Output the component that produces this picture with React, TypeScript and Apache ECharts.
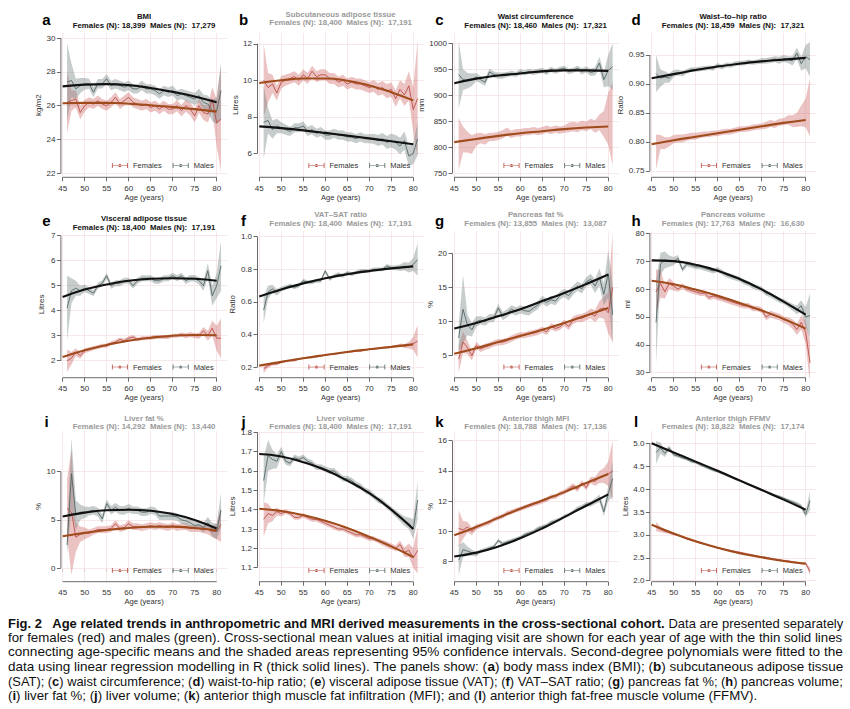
import React, { useEffect, useRef } from "react";
import * as echarts from "echarts";

// ---------- shared axes ----------
const AGES = [46, 47, 48, 49, 50, 51, 52, 53, 54, 55, 56, 57, 58, 59, 60, 61, 62, 63, 64, 65, 66, 67, 68, 69, 70, 71, 72, 73, 74, 75, 76, 77, 78, 79, 80, 81];
const FIT_AGES = [45, 50, 55, 60, 65, 70, 75, 80];
const X_TICKS = [45, 50, 55, 60, 65, 70, 75, 80];

// ---------- a: BMI ----------
const A_TICKS = [22, 24, 26, 28, 30];
const A_F_MEAN = [26.2, 26.3, 26.4, 25.6, 26.0, 26.2, 26.1, 26.3, 26.1, 26.0, 26.2, 26.5, 26.1, 26.3, 26.5, 26.2, 26.1, 26.0, 26.1, 25.9, 26.0, 25.8, 26.0, 25.8, 25.8, 26.0, 25.7, 26.0, 25.8, 25.4, 26.0, 25.6, 25.5, 26.4, 25.0, 25.2];
const A_F_CI = [1.8, 0.6, 0.5, 0.4, 0.35, 0.3, 0.3, 0.3, 0.3, 0.3, 0.3, 0.3, 0.3, 0.3, 0.3, 0.3, 0.3, 0.3, 0.3, 0.3, 0.3, 0.3, 0.3, 0.3, 0.3, 0.32, 0.34, 0.36, 0.38, 0.4, 0.42, 0.45, 0.5, 0.7, 1.4, 3.1];
const A_M_MEAN = [27.4, 27.5, 27.0, 27.2, 27.3, 27.3, 26.8, 27.3, 27.3, 27.6, 27.2, 27.3, 27.2, 27.1, 27.2, 27.0, 27.0, 27.2, 27.0, 27.0, 26.9, 26.7, 26.9, 26.8, 26.9, 26.6, 26.7, 26.6, 26.5, 26.4, 26.6, 26.2, 26.1, 25.7, 25.7, 26.9];
const A_M_CI = [2.3, 1.0, 0.6, 0.45, 0.35, 0.3, 0.3, 0.28, 0.28, 0.28, 0.28, 0.28, 0.28, 0.28, 0.28, 0.28, 0.28, 0.28, 0.28, 0.28, 0.28, 0.28, 0.28, 0.28, 0.3, 0.3, 0.3, 0.32, 0.34, 0.36, 0.4, 0.45, 0.5, 0.6, 0.8, 1.7];
const A_F_FIT = [26.15, 26.17, 26.17, 26.12, 26.03, 25.92, 25.8, 25.65];
const A_M_FIT = [27.15, 27.25, 27.28, 27.22, 27.05, 26.82, 26.55, 26.2];

// ---------- b: SAT ----------
const B_TICKS = [6, 8, 10, 12];
const B_F_MEAN = [10.0, 9.6, 9.8, 9.3, 9.9, 10.0, 10.1, 10.2, 10.0, 10.3, 10.1, 10.5, 10.2, 10.3, 10.3, 10.1, 10.1, 9.9, 10.0, 9.8, 9.9, 9.8, 9.8, 9.7, 9.6, 9.7, 9.5, 9.6, 9.4, 9.5, 9.0, 9.5, 9.2, 9.7, 8.4, 9.0];
const B_F_CI = [2.0, 0.8, 0.5, 0.4, 0.35, 0.3, 0.3, 0.3, 0.3, 0.3, 0.3, 0.3, 0.3, 0.3, 0.3, 0.3, 0.3, 0.3, 0.3, 0.3, 0.3, 0.3, 0.3, 0.3, 0.3, 0.32, 0.34, 0.36, 0.38, 0.4, 0.45, 0.5, 0.6, 0.8, 1.2, 3.2];
const B_M_MEAN = [7.7, 7.8, 7.3, 7.5, 7.4, 7.3, 7.2, 7.4, 7.4, 7.5, 7.2, 7.3, 7.1, 7.2, 7.0, 7.0, 7.1, 7.0, 7.0, 6.9, 6.9, 6.8, 6.9, 6.8, 6.8, 6.8, 6.7, 6.8, 6.6, 6.7, 6.6, 6.4, 6.7, 5.85, 6.0, 6.8];
const B_M_CI = [2.0, 0.7, 0.5, 0.4, 0.3, 0.28, 0.25, 0.25, 0.25, 0.25, 0.25, 0.25, 0.25, 0.25, 0.25, 0.25, 0.25, 0.25, 0.25, 0.25, 0.25, 0.25, 0.25, 0.25, 0.25, 0.28, 0.3, 0.32, 0.35, 0.38, 0.4, 0.45, 0.5, 0.55, 0.6, 0.9];
const B_F_FIT = [9.85, 10.0, 10.1, 10.1, 9.98, 9.72, 9.35, 8.9];
const B_M_FIT = [7.48, 7.38, 7.26, 7.12, 6.97, 6.82, 6.66, 6.5];

// ---------- c: waist circumference ----------
const C_TICKS = [750, 800, 850, 900, 950, 1000];
const C_F_MEAN = [806, 815, 810, 805, 815, 818, 815, 820, 820, 822, 825, 830, 825, 828, 828, 830, 830, 832, 830, 832, 835, 832, 835, 833, 835, 838, 840, 838, 842, 840, 845, 840, 848, 845, 855, 845];
const C_F_CI = [50, 25, 20, 18, 12, 10, 10, 8, 8, 8, 8, 8, 7, 7, 7, 7, 7, 7, 7, 7, 7, 7, 7, 7, 7, 9, 9, 9, 9, 9, 10, 12, 15, 25, 50, 80];
const C_M_MEAN = [940, 930, 928, 930, 935, 930, 925, 945, 940, 938, 938, 940, 942, 940, 945, 943, 946, 944, 946, 948, 944, 950, 946, 950, 952, 946, 948, 952, 946, 950, 944, 946, 962, 930, 948, 955];
const C_M_CI = [65, 20, 15, 12, 8, 7, 7, 6, 6, 6, 6, 5, 5, 5, 5, 5, 5, 5, 5, 5, 5, 5, 5, 5, 5, 5, 5, 5, 6, 6, 7, 8, 12, 15, 30, 45];
const C_F_FIT = [810, 816, 822, 827, 831, 835, 838, 840];
const C_M_FIT = [923, 932, 938, 942, 946, 948, 948, 947];

// ---------- d: waist-to-hip ratio ----------
const D_TICKS = [0.75, 0.8, 0.85, 0.9, 0.95];
const D_F_MEAN = [0.783, 0.8, 0.798, 0.8, 0.805, 0.806, 0.806, 0.808, 0.81, 0.81, 0.812, 0.813, 0.813, 0.815, 0.815, 0.817, 0.818, 0.818, 0.82, 0.822, 0.822, 0.823, 0.825, 0.826, 0.827, 0.829, 0.832, 0.83, 0.834, 0.835, 0.838, 0.836, 0.838, 0.845, 0.85, 0.86];
const D_F_CI = [0.03, 0.012, 0.01, 0.008, 0.007, 0.007, 0.007, 0.006, 0.006, 0.006, 0.005, 0.005, 0.005, 0.005, 0.005, 0.005, 0.005, 0.005, 0.005, 0.005, 0.005, 0.005, 0.005, 0.005, 0.005, 0.006, 0.006, 0.006, 0.006, 0.006, 0.008, 0.01, 0.012, 0.018, 0.025, 0.05];
const D_M_MEAN = [0.918, 0.91, 0.912, 0.91, 0.918, 0.92, 0.918, 0.922, 0.925, 0.925, 0.926, 0.927, 0.928, 0.927, 0.932, 0.929, 0.933, 0.932, 0.935, 0.936, 0.936, 0.938, 0.937, 0.938, 0.94, 0.94, 0.941, 0.943, 0.941, 0.944, 0.942, 0.94, 0.953, 0.935, 0.947, 0.942];
const D_M_CI = [0.032, 0.015, 0.01, 0.008, 0.006, 0.005, 0.005, 0.004, 0.004, 0.004, 0.004, 0.004, 0.004, 0.004, 0.004, 0.004, 0.004, 0.004, 0.004, 0.004, 0.004, 0.004, 0.004, 0.004, 0.005, 0.005, 0.005, 0.005, 0.006, 0.006, 0.006, 0.008, 0.01, 0.012, 0.02, 0.03];
const D_F_FIT = [0.796, 0.803, 0.809, 0.815, 0.821, 0.827, 0.833, 0.838];
const D_M_FIT = [0.91, 0.917, 0.924, 0.93, 0.935, 0.939, 0.942, 0.945];

// ---------- e: VAT ----------
const E_TICKS = [2, 3, 4, 5, 6, 7];
const E_F_MEAN = [2.0, 2.1, 2.35, 2.2, 2.4, 2.45, 2.5, 2.55, 2.6, 2.6, 2.7, 2.75, 2.85, 2.8, 2.9, 2.95, 2.85, 2.9, 2.9, 2.92, 2.95, 2.95, 2.95, 2.95, 3.0, 3.0, 3.05, 3.0, 3.05, 3.0, 3.0, 3.2, 3.0, 3.3, 2.9, 2.9];
const E_F_CI = [0.45, 0.25, 0.15, 0.12, 0.1, 0.09, 0.08, 0.08, 0.08, 0.08, 0.08, 0.08, 0.08, 0.08, 0.08, 0.08, 0.08, 0.08, 0.08, 0.08, 0.08, 0.08, 0.08, 0.08, 0.08, 0.08, 0.08, 0.1, 0.1, 0.1, 0.12, 0.15, 0.2, 0.3, 0.5, 0.8];
const E_M_MEAN = [4.1, 4.8, 4.9, 4.8, 4.9, 4.8, 4.7, 5.0, 5.1, 5.4, 5.0, 5.1, 5.1, 5.2, 5.2, 5.0, 5.2, 5.3, 5.3, 5.3, 5.2, 5.2, 5.3, 5.3, 5.4, 5.3, 5.4, 5.2, 5.3, 5.3, 5.2, 5.0, 5.6, 4.6, 5.0, 5.8];
const E_M_CI = [1.3, 0.5, 0.3, 0.2, 0.15, 0.13, 0.12, 0.12, 0.12, 0.12, 0.12, 0.12, 0.12, 0.12, 0.12, 0.12, 0.12, 0.12, 0.12, 0.12, 0.12, 0.12, 0.12, 0.12, 0.12, 0.12, 0.12, 0.13, 0.13, 0.13, 0.15, 0.2, 0.3, 0.4, 0.5, 1.0];
const E_F_FIT = [2.15, 2.42, 2.63, 2.8, 2.92, 3.0, 3.03, 3.02];
const E_M_FIT = [4.55, 4.85, 5.05, 5.2, 5.28, 5.3, 5.28, 5.2];

// ---------- f: VAT-SAT ratio ----------
const F_TICKS = [0.2, 0.4, 0.6, 0.8, 1.0];
const F_F_MEAN = [0.19, 0.21, 0.22, 0.22, 0.23, 0.235, 0.24, 0.24, 0.25, 0.255, 0.26, 0.262, 0.265, 0.27, 0.275, 0.278, 0.28, 0.285, 0.29, 0.295, 0.295, 0.3, 0.3, 0.305, 0.31, 0.312, 0.315, 0.32, 0.32, 0.325, 0.33, 0.335, 0.33, 0.335, 0.345, 0.36];
const F_F_CI = [0.025, 0.015, 0.01, 0.008, 0.006, 0.005, 0.005, 0.005, 0.005, 0.005, 0.005, 0.005, 0.005, 0.005, 0.005, 0.005, 0.005, 0.005, 0.005, 0.005, 0.005, 0.005, 0.005, 0.005, 0.005, 0.006, 0.006, 0.006, 0.006, 0.006, 0.007, 0.01, 0.012, 0.02, 0.04, 0.1];
const F_M_MEAN = [0.55, 0.66, 0.68, 0.66, 0.68, 0.69, 0.7, 0.69, 0.7, 0.73, 0.72, 0.72, 0.73, 0.73, 0.79, 0.74, 0.76, 0.77, 0.76, 0.78, 0.77, 0.78, 0.79, 0.79, 0.79, 0.8, 0.8, 0.8, 0.82, 0.81, 0.81, 0.81, 0.82, 0.81, 0.83, 0.86];
const F_M_CI = [0.08, 0.04, 0.025, 0.02, 0.015, 0.013, 0.012, 0.012, 0.012, 0.012, 0.012, 0.012, 0.012, 0.012, 0.012, 0.012, 0.012, 0.012, 0.012, 0.012, 0.012, 0.012, 0.012, 0.012, 0.012, 0.012, 0.012, 0.012, 0.013, 0.013, 0.015, 0.02, 0.025, 0.03, 0.04, 0.1];
const F_F_FIT = [0.21, 0.233, 0.255, 0.275, 0.294, 0.31, 0.325, 0.34];
const F_M_FIT = [0.633, 0.676, 0.714, 0.745, 0.77, 0.79, 0.806, 0.818];

// ---------- g: pancreas fat % ----------
const G_TICKS = [5, 10, 15, 20];
const G_F_MEAN = [4.5, 7.0, 6.2, 5.0, 6.5, 6.0, 6.3, 6.5, 6.8, 7.0, 7.0, 7.2, 7.5, 7.8, 8.0, 8.0, 8.2, 8.3, 8.5, 8.8, 8.5, 9.3, 9.0, 9.2, 9.8, 9.3, 10.2, 10.5, 10.5, 10.8, 11.2, 10.8, 11.8, 12.0, 11.3, 15.0];
const G_F_CI = [2.0, 1.6, 1.0, 0.7, 0.5, 0.45, 0.45, 0.45, 0.45, 0.45, 0.45, 0.45, 0.45, 0.45, 0.45, 0.45, 0.45, 0.45, 0.45, 0.45, 0.45, 0.45, 0.45, 0.45, 0.5, 0.55, 0.55, 0.55, 0.6, 0.6, 0.7, 0.9, 1.2, 1.6, 3.0, 8.0];
const G_M_MEAN = [7.6, 11.8, 9.5, 8.8, 10.0, 10.2, 10.0, 10.5, 10.5, 12.0, 10.8, 11.2, 11.8, 11.5, 11.8, 11.6, 11.5, 12.0, 12.4, 13.2, 12.8, 13.2, 13.0, 13.8, 14.2, 13.8, 14.6, 15.2, 14.8, 15.8, 16.2, 15.2, 16.5, 14.0, 17.0, 11.0];
const G_M_CI = [2.0, 5.0, 1.5, 1.0, 0.8, 0.6, 0.6, 0.6, 0.6, 0.6, 0.6, 0.6, 0.6, 0.6, 0.6, 0.6, 0.6, 0.6, 0.6, 0.6, 0.6, 0.6, 0.6, 0.6, 0.6, 0.7, 0.7, 0.7, 0.7, 0.7, 0.8, 1.0, 1.3, 1.6, 3.5, 4.5];
const G_F_FIT = [5.3, 6.1, 7.0, 7.9, 8.8, 9.8, 10.9, 12.0];
const G_M_FIT = [9.0, 9.8, 10.8, 11.8, 13.0, 14.2, 15.5, 16.9];

// ---------- h: pancreas volume ----------
const H_TICKS = [30, 40, 50, 60, 70, 80];
const H_F_MEAN = [59, 62, 59, 62, 61, 60, 61, 60, 59.5, 59, 58.5, 58.5, 57, 57.5, 57, 56.5, 56, 55.5, 55, 54.5, 54, 54, 53, 53, 52.5, 50, 51, 50.5, 50, 49, 48.5, 47.5, 45.5, 48, 44.5, 33.5];
const H_F_CI = [8, 5, 2.5, 2, 1.5, 1, 1, 1, 1, 1, 1, 1, 1, 1, 1, 1, 1, 1, 1, 1, 1, 1, 1, 1, 1, 1.2, 1.2, 1.2, 1.2, 1.2, 1.4, 1.7, 2, 2.5, 4, 8];
const H_M_MEAN = [48, 69, 70.5, 70, 70, 71, 67, 69, 68.5, 68, 68, 67.5, 67, 66.5, 67, 66, 65, 64.5, 64, 63.5, 62.5, 62, 61, 60.5, 60, 58.5, 58, 57, 56, 55.5, 54.5, 53.5, 52.5, 54, 50, 50.5];
const H_M_CI = [15, 4, 3, 2, 1.5, 1.2, 0.9, 0.9, 0.9, 0.9, 0.9, 0.9, 0.9, 0.9, 0.9, 0.9, 0.9, 0.9, 0.9, 0.9, 0.9, 0.9, 0.9, 0.9, 0.9, 0.9, 0.9, 0.9, 0.9, 0.9, 1.0, 1.2, 1.5, 2.0, 3.5, 8];
const H_F_FIT = [63.0, 61.7, 59.8, 57.6, 55.0, 52.3, 49.3, 45.8];
const H_M_FIT = [70.3, 70.0, 68.7, 66.6, 63.6, 59.9, 55.5, 50.8];

// ---------- i: liver fat % ----------
const I_TICKS = [0, 5, 10];
const I_F_MEAN = [6.2, 5.8, 3.2, 3.5, 3.6, 3.6, 3.8, 4.0, 4.0, 4.0, 4.1, 4.6, 4.1, 4.2, 4.6, 4.3, 4.3, 4.2, 4.3, 4.4, 4.3, 4.4, 4.3, 4.2, 4.4, 4.2, 4.3, 4.3, 4.1, 4.1, 4.1, 4.0, 4.0, 3.8, 3.8, 4.5];
const I_F_CI = [3.0, 6.5, 1.5, 0.8, 0.6, 0.4, 0.35, 0.35, 0.35, 0.35, 0.35, 0.35, 0.35, 0.35, 0.35, 0.35, 0.35, 0.35, 0.35, 0.35, 0.35, 0.35, 0.35, 0.35, 0.35, 0.35, 0.35, 0.35, 0.35, 0.35, 0.35, 0.4, 0.5, 0.6, 0.8, 1.8];
const I_M_MEAN = [2.4, 9.8, 5.5, 5.8, 5.8, 5.9, 6.0, 5.8, 5.1, 6.7, 6.0, 6.3, 6.0, 6.0, 6.2, 6.0, 6.0, 5.8, 5.8, 6.0, 5.9, 5.4, 5.4, 5.4, 5.4, 5.3, 5.0, 4.9, 4.7, 4.4, 4.5, 4.2, 4.7, 4.0, 3.8, 6.0];
const I_M_CI = [1.0, 3.7, 1.5, 0.8, 0.6, 0.45, 0.45, 0.45, 0.45, 0.45, 0.45, 0.45, 0.45, 0.45, 0.45, 0.4, 0.4, 0.4, 0.4, 0.4, 0.4, 0.4, 0.4, 0.4, 0.4, 0.4, 0.4, 0.4, 0.4, 0.4, 0.45, 0.5, 0.6, 0.7, 0.8, 1.8];
const I_F_FIT = [3.3, 3.65, 3.95, 4.15, 4.28, 4.3, 4.15, 3.9];
const I_M_FIT = [5.35, 5.75, 6.0, 6.05, 5.95, 5.6, 5.0, 4.1];

// ---------- j: liver volume ----------
const J_TICKS = [1.1, 1.2, 1.3, 1.4, 1.5, 1.6, 1.7, 1.8];
const J_F_MEAN = [1.35, 1.38, 1.37, 1.39, 1.38, 1.39, 1.38, 1.36, 1.36, 1.37, 1.36, 1.35, 1.35, 1.34, 1.33, 1.32, 1.31, 1.3, 1.3, 1.29, 1.28, 1.27, 1.27, 1.26, 1.25, 1.25, 1.24, 1.23, 1.22, 1.21, 1.2, 1.22, 1.18, 1.19, 1.15, 1.19];
const J_F_CI = [0.09, 0.05, 0.03, 0.02, 0.015, 0.012, 0.012, 0.012, 0.012, 0.012, 0.012, 0.012, 0.012, 0.012, 0.012, 0.012, 0.012, 0.012, 0.012, 0.012, 0.012, 0.012, 0.012, 0.012, 0.012, 0.012, 0.012, 0.015, 0.015, 0.015, 0.015, 0.02, 0.025, 0.035, 0.05, 0.12];
const J_M_MEAN = [1.55, 1.68, 1.66, 1.65, 1.7, 1.65, 1.64, 1.67, 1.66, 1.67, 1.65, 1.64, 1.62, 1.62, 1.61, 1.6, 1.6, 1.58, 1.56, 1.56, 1.55, 1.53, 1.52, 1.5, 1.49, 1.47, 1.45, 1.44, 1.42, 1.4, 1.38, 1.36, 1.34, 1.33, 1.3, 1.45];
const J_M_CI = [0.12, 0.08, 0.05, 0.035, 0.025, 0.018, 0.015, 0.015, 0.015, 0.015, 0.015, 0.015, 0.015, 0.015, 0.015, 0.015, 0.015, 0.015, 0.015, 0.015, 0.015, 0.015, 0.015, 0.015, 0.015, 0.015, 0.015, 0.015, 0.015, 0.015, 0.018, 0.02, 0.025, 0.03, 0.05, 0.1];
const J_F_FIT = [1.405, 1.393, 1.372, 1.343, 1.305, 1.26, 1.21, 1.155];
const J_M_FIT = [1.688, 1.675, 1.645, 1.605, 1.55, 1.485, 1.4, 1.3];

// ---------- k: anterior thigh MFI ----------
const K_TICKS = [8, 10, 12, 14, 16];
const K_F_MEAN = [10.2, 10.1, 10.3, 10.0, 10.3, 10.4, 10.5, 10.6, 10.8, 10.9, 11.0, 11.2, 11.3, 11.4, 11.5, 11.6, 11.7, 11.8, 11.9, 12.0, 12.1, 12.3, 12.3, 12.5, 12.6, 12.8, 13.0, 12.8, 13.2, 12.9, 13.4, 13.3, 13.6, 13.7, 13.8, 14.0];
const K_F_CI = [1.2, 0.6, 0.35, 0.25, 0.18, 0.15, 0.15, 0.15, 0.15, 0.15, 0.15, 0.15, 0.15, 0.15, 0.15, 0.15, 0.15, 0.15, 0.15, 0.15, 0.15, 0.15, 0.15, 0.15, 0.15, 0.18, 0.18, 0.18, 0.18, 0.18, 0.22, 0.3, 0.4, 0.5, 0.8, 2.0];
const K_M_MEAN = [8.1, 8.8, 8.7, 8.6, 8.5, 8.7, 8.8, 8.9, 9.0, 9.4, 9.2, 9.3, 9.4, 9.5, 9.6, 9.8, 9.9, 10.0, 10.2, 10.3, 10.4, 10.6, 10.7, 10.8, 11.0, 11.1, 11.3, 11.5, 11.6, 11.8, 11.8, 12.0, 12.2, 11.3, 12.5, 13.5];
const K_M_CI = [1.0, 0.5, 0.3, 0.2, 0.15, 0.12, 0.12, 0.12, 0.12, 0.12, 0.12, 0.12, 0.12, 0.12, 0.12, 0.12, 0.12, 0.12, 0.12, 0.12, 0.12, 0.12, 0.12, 0.12, 0.12, 0.12, 0.12, 0.15, 0.15, 0.15, 0.15, 0.2, 0.25, 0.3, 0.5, 1.2];
const K_F_FIT = [9.75, 10.3, 10.9, 11.5, 12.05, 12.6, 13.2, 13.8];
const K_M_FIT = [8.35, 8.6, 9.0, 9.55, 10.2, 10.95, 11.7, 12.45];

// ---------- l: anterior thigh FFMV ----------
const L_TICKS = [2.0, 2.5, 3.0, 3.5, 4.0, 4.5, 5.0];
const L_F_MEAN = [3.18, 3.12, 3.08, 3.05, 3.01, 2.99, 2.95, 2.91, 2.88, 2.85, 2.82, 2.8, 2.77, 2.75, 2.72, 2.7, 2.68, 2.66, 2.64, 2.62, 2.6, 2.58, 2.56, 2.54, 2.52, 2.51, 2.49, 2.47, 2.46, 2.44, 2.43, 2.41, 2.4, 2.38, 2.38, 2.2];
const L_F_CI = [0.1, 0.06, 0.04, 0.03, 0.02, 0.015, 0.015, 0.015, 0.015, 0.015, 0.015, 0.015, 0.015, 0.015, 0.015, 0.015, 0.015, 0.015, 0.015, 0.015, 0.015, 0.015, 0.015, 0.015, 0.015, 0.015, 0.015, 0.015, 0.015, 0.015, 0.02, 0.02, 0.02, 0.025, 0.035, 0.08];
const L_M_MEAN = [4.8, 4.9, 4.78, 4.9, 4.75, 4.72, 4.68, 4.65, 4.6, 4.58, 4.53, 4.49, 4.45, 4.41, 4.38, 4.34, 4.3, 4.26, 4.22, 4.18, 4.14, 4.1, 4.07, 4.03, 3.99, 3.95, 3.91, 3.87, 3.84, 3.8, 3.76, 3.72, 3.68, 3.62, 3.45, 3.75];
const L_M_CI = [0.25, 0.12, 0.08, 0.05, 0.04, 0.03, 0.025, 0.025, 0.025, 0.025, 0.025, 0.025, 0.025, 0.025, 0.025, 0.025, 0.025, 0.025, 0.025, 0.025, 0.025, 0.025, 0.025, 0.025, 0.025, 0.025, 0.025, 0.025, 0.025, 0.025, 0.03, 0.035, 0.04, 0.05, 0.07, 0.2];
const L_F_FIT = [3.22, 3.03, 2.86, 2.72, 2.6, 2.51, 2.43, 2.37];
const L_M_FIT = [5.0, 4.8, 4.6, 4.4, 4.19, 3.98, 3.77, 3.55];

// ---------- caption ----------
const CAPTION_LINES: [string, boolean][][] = [
  [["Fig. 2   Age related trends in anthropometric and MRI derived measurements in the cross-sectional cohort.", true], [" Data are presented separately", false]],
  [["for females (red) and males (green). Cross-sectional mean values at initial imaging visit are shown for each year of age with the thin solid lines", false]],
  [["connecting age-specific means and the shaded areas representing 95% confidence intervals. Second-degree polynomials were fitted to the", false]],
  [["data using linear regression modelling in R (thick solid lines). The panels show: (", false], ["a", true], [") body mass index (BMI); (", false], ["b", true], [") subcutaneous adipose tissue", false]],
  [["(SAT); (", false], ["c", true], [") waist circumference; (", false], ["d", true], [") waist-to-hip ratio; (", false], ["e", true], [") visceral adipose tissue (VAT); (", false], ["f", true], [") VAT–SAT ratio; (", false], ["g", true], [") pancreas fat %; (", false], ["h", true], [") pancreas volume;", false]],
  [["(", false], ["i", true], [") liver fat %; (", false], ["j", true], [") liver volume; (", false], ["k", true], [") anterior thigh muscle fat infiltration (MFI); and (", false], ["l", true], [") anterior thigh fat-free muscle volume (FFMV).", false]],
];

type Sex = { mean: number[]; ci: number[]; fit: number[]; line: boolean };
type Panel = {
  letter: string; title: string; sub: string; strong: boolean; yName: string;
  yTicks: number[]; dec: number; yRange: [number, number]; female: Sex; male: Sex;
};

const PANELS: Panel[] = [
  { letter: "a", title: "BMI", sub: "Females (N): 18,399  Males (N):  17,279", strong: true, yName: "kg/m2", yTicks: A_TICKS, dec: 0, yRange: [21.76, 30.31],
    female: { mean: A_F_MEAN, ci: A_F_CI, fit: A_F_FIT, line: true }, male: { mean: A_M_MEAN, ci: A_M_CI, fit: A_M_FIT, line: true } },
  { letter: "b", title: "Subcutaneous adipose tissue", sub: "Females (N): 18,400  Males (N):  17,191", strong: false, yName: "Litres", yTicks: B_TICKS, dec: 0, yRange: [4.69, 12.59],
    female: { mean: B_F_MEAN, ci: B_F_CI, fit: B_F_FIT, line: true }, male: { mean: B_M_MEAN, ci: B_M_CI, fit: B_M_FIT, line: true } },
  { letter: "c", title: "Waist circumference", sub: "Females (N): 18,460  Males (N):  17,321", strong: true, yName: "mm", yTicks: C_TICKS, dec: 0, yRange: [742.3, 1019.8],
    female: { mean: C_F_MEAN, ci: C_F_CI, fit: C_F_FIT, line: false }, male: { mean: C_M_MEAN, ci: C_M_CI, fit: C_M_FIT, line: true } },
  { letter: "d", title: "Waist–to–hip ratio", sub: "Females (N): 18,459  Males (N):  17,321", strong: true, yName: "Ratio", yTicks: D_TICKS, dec: 2, yRange: [0.7391, 0.9879],
    female: { mean: D_F_MEAN, ci: D_F_CI, fit: D_F_FIT, line: false }, male: { mean: D_M_MEAN, ci: D_M_CI, fit: D_M_FIT, line: true } },
  { letter: "e", title: "Visceral adipose tissue", sub: "Females (N): 18,400  Males (N):  17,191", strong: true, yName: "Litres", yTicks: E_TICKS, dec: 0, yRange: [1.32, 7.19],
    female: { mean: E_F_MEAN, ci: E_F_CI, fit: E_F_FIT, line: true }, male: { mean: E_M_MEAN, ci: E_M_CI, fit: E_M_FIT, line: true } },
  { letter: "f", title: "VAT–SAT ratio", sub: "Females (N): 18,400  Males (N):  17,191", strong: false, yName: "Ratio", yTicks: F_TICKS, dec: 1, yRange: [0.136, 1.035],
    female: { mean: F_F_MEAN, ci: F_F_CI, fit: F_F_FIT, line: true }, male: { mean: F_M_MEAN, ci: F_M_CI, fit: F_M_FIT, line: true } },
  { letter: "g", title: "Pancreas fat %", sub: "Females (N): 13,855  Males (N):  13,087", strong: false, yName: "%", yTicks: G_TICKS, dec: 0, yRange: [1.78, 23.27],
    female: { mean: G_F_MEAN, ci: G_F_CI, fit: G_F_FIT, line: true }, male: { mean: G_M_MEAN, ci: G_M_CI, fit: G_M_FIT, line: true } },
  { letter: "h", title: "Pancreas volume", sub: "Females (N): 17,763  Males (N):  16,630", strong: false, yName: "ml", yTicks: H_TICKS, dec: 0, yRange: [28.2, 80.82],
    female: { mean: H_F_MEAN, ci: H_F_CI, fit: H_F_FIT, line: true }, male: { mean: H_M_MEAN, ci: H_M_CI, fit: H_M_FIT, line: true } },
  { letter: "i", title: "Liver fat %", sub: "Females (N): 14,292  Males (N):  13,440", strong: false, yName: "%", yTicks: I_TICKS, dec: 0, yRange: [-1.42, 14.23],
    female: { mean: I_F_MEAN, ci: I_F_CI, fit: I_F_FIT, line: true }, male: { mean: I_M_MEAN, ci: I_M_CI, fit: I_M_FIT, line: true } },
  { letter: "j", title: "Liver volume", sub: "Females (N): 18,400  Males (N):  17,191", strong: false, yName: "Litres", yTicks: J_TICKS, dec: 1, yRange: [1.0276, 1.8067],
    female: { mean: J_F_MEAN, ci: J_F_CI, fit: J_F_FIT, line: true }, male: { mean: J_M_MEAN, ci: J_M_CI, fit: J_M_FIT, line: true } },
  { letter: "k", title: "Anterior thigh MFI", sub: "Females (N): 18,788  Males (N):  17,136", strong: false, yName: "%", yTicks: K_TICKS, dec: 0, yRange: [6.68, 16.64],
    female: { mean: K_F_MEAN, ci: K_F_CI, fit: K_F_FIT, line: true }, male: { mean: K_M_MEAN, ci: K_M_CI, fit: K_M_FIT, line: true } },
  { letter: "l", title: "Anterior thigh FFMV", sub: "Females (N): 18,822  Males (N):  17,174", strong: false, yName: "Litres", yTicks: L_TICKS, dec: 1, yRange: [1.978, 5.269],
    female: { mean: L_F_MEAN, ci: L_F_CI, fit: L_F_FIT, line: true }, male: { mean: L_M_MEAN, ci: L_M_CI, fit: L_M_FIT, line: true } },
];

// ---------- layout & style ----------
const FONT = "'Liberation Sans', Arial, Helvetica, sans-serif";
const CAP_FONT = "'Liberation Sans Narrow', 'Liberation Sans', Arial, sans-serif";
const CAP_SIZE = 13.2;
const COL_LEFT = [60.9, 257.5, 452.5, 649.9];
const PLOT_W = 166.3;
const ROW_TOP = [33, 231, 431];
const ROW_BOTTOM = [177.3, 377.7, 581.7];
const X_MIN = 44.6;
const X_MAX = 82.4;
const LEGEND_TOP = [161.5, 363, 566.5];
const LETTER_X = [46.5, 243.5, 439.5, 636];
const LETTER_Y = [19.5, 220, 421];
const TITLE_Y_STRONG = [16, 218.3, 420];
const TITLE_Y_GRAY = [14, 214.8, 418];

const F_LINE = "#b8483e";
const M_LINE = "#4e6262";
const F_BAND = "rgba(205,105,105,0.40)";
const M_BAND = "rgba(115,128,128,0.40)";
const F_FIT = "#a04b1c";
const M_FIT = "#111111";
const GRID_C = "#f5e3e3";
const AXIS_C = "#444444";
const TEXT_C = "#333333";
const ICON = "path://M0,4.6h20v0.8h-20z M0,2h1v6h-1z M19,2h1v6h-1z M8,5a2,2 0 1,0 4,0a2,2 0 1,0 -4,0z";

function buildOption() {
  const grid: any[] = [];
  const xAxis: any[] = [];
  const yAxis: any[] = [];
  const series: any[] = [];
  const legend: any[] = [];
  const graphic: any[] = [];

  PANELS.forEach((p, i) => {
    const col = i % 4;
    const row = Math.floor(i / 4);
    const left = COL_LEFT[col];
    const top = ROW_TOP[row];
    const height = ROW_BOTTOM[row] - top;
    grid.push({ left, top, width: PLOT_W, height, containLabel: false, outerBoundsMode: "none" });
    xAxis.push({
      type: "value", gridIndex: i, min: X_MIN, max: X_MAX,
      axisLine: { show: false }, splitLine: { show: false },
      axisTick: { show: true, length: 4, customValues: X_TICKS, lineStyle: { color: AXIS_C, width: 0.8 } },
      axisLabel: { show: true, customValues: X_TICKS, fontSize: 8, color: TEXT_C, margin: 7, fontFamily: FONT },
      name: "Age (years)", nameLocation: "middle", nameGap: 14.5,
      nameTextStyle: { fontSize: 7.6, color: TEXT_C, fontFamily: FONT },
    });
    yAxis.push({
      type: "value", gridIndex: i, min: p.yRange[0], max: p.yRange[1],
      axisLine: { show: false }, splitLine: { show: false },
      axisTick: { show: true, length: 4, customValues: p.yTicks, lineStyle: { color: AXIS_C, width: 0.8 } },
      axisLabel: { show: true, customValues: p.yTicks, fontSize: 8, color: TEXT_C, margin: 5.5, fontFamily: FONT,
        formatter: (v: number) => Number(v).toFixed(p.dec) },
      name: p.yName, nameLocation: "middle", nameGap: 15.5,
      nameTextStyle: { fontSize: 8, color: TEXT_C, fontFamily: FONT },
    });

    const sexes: [Sex, string, string, string, string][] = [
      [p.female, "Females", F_BAND, F_LINE, F_FIT],
      [p.male, "Males", M_BAND, M_LINE, M_FIT],
    ];
    sexes.forEach(([s, name, band]) => {
      const upper = AGES.map((a, k) => [a, s.mean[k] + s.ci[k]]);
      const lower = AGES.map((a, k) => [a, s.mean[k] - s.ci[k]]);
      series.push({
        type: "custom", name: name + " CI", xAxisIndex: i, yAxisIndex: i, clip: true, silent: true, z: 2,
        data: AGES.map((a, k) => [a, lower[k][1], upper[k][1]]),
        encode: { x: 0, y: [1, 2] },
        renderItem: (params: any, api: any) => {
          if (params.dataIndex !== 0) return null;
          const pts = upper.map((d) => api.coord(d)).concat(lower.slice().reverse().map((d) => api.coord(d)));
          return { type: "polygon", shape: { points: pts }, style: { fill: band }, silent: true };
        },
      });
    });
    sexes.forEach(([s, name, band, lineC]) => {
      if (!s.line) return;
      series.push({
        type: "line", name, xAxisIndex: i, yAxisIndex: i, clip: true, silent: true, z: 3,
        symbol: "none", showSymbol: false,
        data: AGES.map((a, k) => [a, s.mean[k]]),
        lineStyle: { color: lineC, width: 0.85 }, itemStyle: { color: lineC },
      });
    });
    sexes.forEach(([s, name, band, lineC, fitC]) => {
      series.push({
        type: "line", name: name + " fit", xAxisIndex: i, yAxisIndex: i, clip: true, silent: true, z: 4,
        symbol: "none", showSymbol: false, smooth: true,
        data: FIT_AGES.map((a, k) => [a, s.fit[k]]),
        lineStyle: { color: fitC, width: 2.1 }, itemStyle: { color: fitC },
      });
    });
    // axis frame lines (R style: spanning the tick range only) + faint grid lines
    series.push({
      type: "line", name: "xframe", xAxisIndex: i, yAxisIndex: i, clip: false, silent: true, z: 5,
      symbol: "none", showSymbol: false,
      data: [[X_TICKS[0], p.yRange[0]], [X_TICKS[X_TICKS.length - 1], p.yRange[0]]],
      lineStyle: { color: AXIS_C, width: 0.8 },
      markLine: {
        silent: true, symbol: ["none", "none"], label: { show: false }, z: 1, animation: false,
        lineStyle: { color: GRID_C, width: 0.8, type: "solid" },
        emphasis: { disabled: true },
        data: [...X_TICKS.map((v) => ({ xAxis: v })), ...p.yTicks.map((v) => ({ yAxis: v }))],
      },
    });
    series.push({
      type: "line", name: "yframe", xAxisIndex: i, yAxisIndex: i, clip: false, silent: true, z: 5,
      symbol: "none", showSymbol: false,
      data: [[X_MIN, p.yTicks[0]], [X_MIN, p.yTicks[p.yTicks.length - 1]]],
      lineStyle: { color: AXIS_C, width: 0.8 },
    });

    legend.push({
      show: true, left: left + 51, top: LEGEND_TOP[row], orient: "horizontal", padding: 0,
      itemWidth: 16, itemHeight: 6, itemGap: 11, icon: ICON, selectedMode: false,
      data: ["Females", "Males"],
      textStyle: { fontSize: 7.5, color: TEXT_C, fontFamily: FONT },
    });

    const cx = left + PLOT_W / 2;
    const ty = p.strong ? TITLE_Y_STRONG[row] : TITLE_Y_GRAY[row];
    const gap = p.strong ? 9.3 : 8.6;
    const tColor = p.strong ? "#111111" : "#9a9a9a";
    graphic.push({ type: "text", x: cx, y: ty, silent: true,
      style: { text: p.title, fontSize: 7.8, fontWeight: "bold", fontFamily: FONT, fill: tColor, align: "center", verticalAlign: "middle" } });
    graphic.push({ type: "text", x: cx, y: ty + gap, silent: true,
      style: { text: p.sub, fontSize: 7.8, fontWeight: "bold", fontFamily: FONT, fill: tColor, align: "center", verticalAlign: "middle" } });
    graphic.push({ type: "text", x: LETTER_X[col], y: LETTER_Y[row], silent: true,
      style: { text: p.letter, fontSize: 15, fontWeight: "bold", fontFamily: FONT, fill: "#000", align: "center", verticalAlign: "middle" } });
  });

  // caption
  const ctx = document.createElement("canvas").getContext("2d")!;
  const measure = (t: string, b: boolean) => {
    ctx.font = `${b ? "bold " : ""}${CAP_SIZE}px ${CAP_FONT}`;
    return ctx.measureText(t).width;
  };
  const CAP_Y = [623, 637.5, 652, 666.5, 681, 695.5];
  const widths = CAPTION_LINES.map((line) => line.reduce((s, [t, b]) => s + measure(t, b), 0));
  const scales = widths.map((w) => 835 / w);
  const avgScale = scales.slice(0, 5).reduce((a, b) => a + b, 0) / 5;
  CAPTION_LINES.forEach((line, li) => {
    const text = line.map(([t, b]) => `{${b ? "b" : "r"}|${t}}`).join("");
    graphic.push({
      type: "text", x: 8, y: CAP_Y[li], scaleX: li < 5 ? scales[li] : avgScale, silent: true,
      style: {
        text, fontSize: CAP_SIZE, fontFamily: CAP_FONT, fill: "#111", align: "left", verticalAlign: "middle",
        rich: {
          b: { fontSize: CAP_SIZE, fontFamily: CAP_FONT, fontWeight: "bold", fill: "#111" },
          r: { fontSize: CAP_SIZE, fontFamily: CAP_FONT, fontWeight: "normal", fill: "#111" },
        },
      },
    });
  });

  return {
    animation: false,
    backgroundColor: "#ffffff",
    textStyle: { fontFamily: FONT },
    grid, xAxis, yAxis, series, legend, graphic,
  };
}

export default function App() {
  const ref = useRef<HTMLDivElement>(null);
  useEffect(() => {
    if (!ref.current) return;
    const chart = echarts.init(ref.current, null, { renderer: "svg", width: 850, height: 709 });
    chart.setOption(buildOption() as any);
    return () => chart.dispose();
  }, []);
  return <div ref={ref} style={{ position: "fixed", left: 0, top: 0, width: 850, height: 709, background: "#fff" }} />;
}
